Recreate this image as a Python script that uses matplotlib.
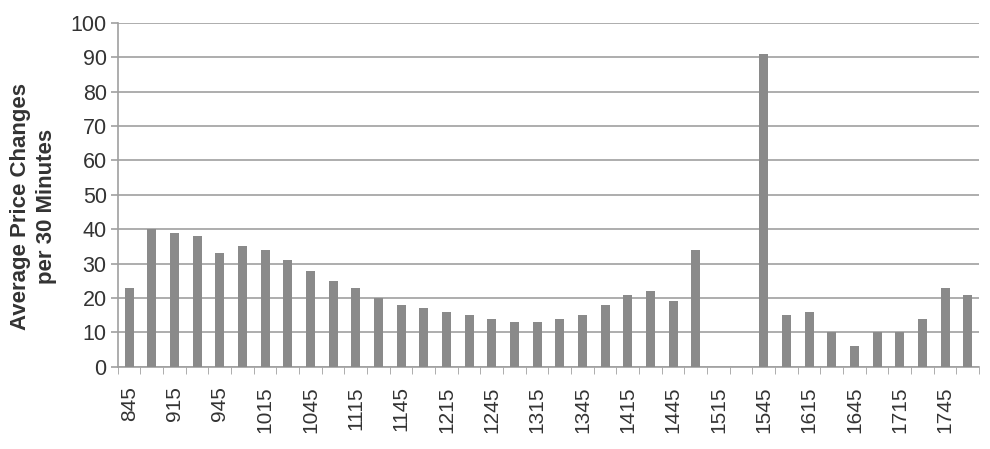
import matplotlib.pyplot as plt
import numpy as np

plt.rcParams['font.family'] = ['Liberation Sans', 'DejaVu Sans']

# 30-minute bars, labelled by start time
times = ["845", "900", "915", "930", "945", "1000", "1015", "1030", "1045", "1100",
         "1115", "1130", "1145", "1200", "1215", "1230", "1245", "1300", "1315", "1330",
         "1345", "1400", "1415", "1430", "1445", "1500", "1515", "1530", "1545", "1600",
         "1615", "1630", "1645", "1700", "1715", "1730", "1745", "1800"]
avg_changes = [23, 40, 39, 38, 33, 35, 34, 31, 28, 25,
               23, 20, 18, 17, 16, 15, 14, 13, 13, 14,
               15, 18, 21, 22, 19, 34, 0, 0, 91, 15,
               16, 10, 6, 10, 10, 14, 23, 21]
y_ticks = list(range(0, 101, 10))

text_col = '#333333'
grid_col = '#a0a0a0'

fig = plt.figure(figsize=(9.9, 4.49), dpi=100)
ax = fig.add_axes([0.119, 0.183, 0.870, 0.766])

x = np.arange(len(times))
ax.bar(x, avg_changes, width=0.4, color='#8a8a8a', zorder=3)

ax.set_xlim(-0.5, len(times) - 0.5)
ax.set_ylim(0, 100)
ax.set_yticks(y_ticks)
ax.yaxis.grid(True, color=grid_col, linewidth=1.2, zorder=0)

# label every other slot, tick marks between slots
ax.set_xticks(x[::2])
ax.set_xticklabels(times[::2], rotation=90)
ax.set_xticks(np.arange(-0.5, len(times), 1), minor=True)
ax.tick_params(axis='x', which='major', length=0, pad=14, labelsize=15, labelcolor=text_col)
ax.tick_params(axis='x', which='minor', length=5, color=grid_col, direction='out')
ax.tick_params(axis='y', length=5, color=grid_col, width=1.2, labelsize=15.5,
               labelcolor=text_col, pad=3)

for side in ['top', 'right']:
    ax.spines[side].set_visible(False)
ax.spines['left'].set_color(grid_col)
ax.spines['bottom'].set_color(grid_col)
ax.spines['left'].set_linewidth(1.2)
ax.spines['bottom'].set_linewidth(1.2)

ax.set_ylabel('Average Price Changes\nper 30 Minutes', fontsize=16, fontweight='bold',
              color=text_col, linespacing=1.3)
ax.yaxis.set_label_coords(-0.071, 0.465)

fig.savefig('out.png', dpi=100)
